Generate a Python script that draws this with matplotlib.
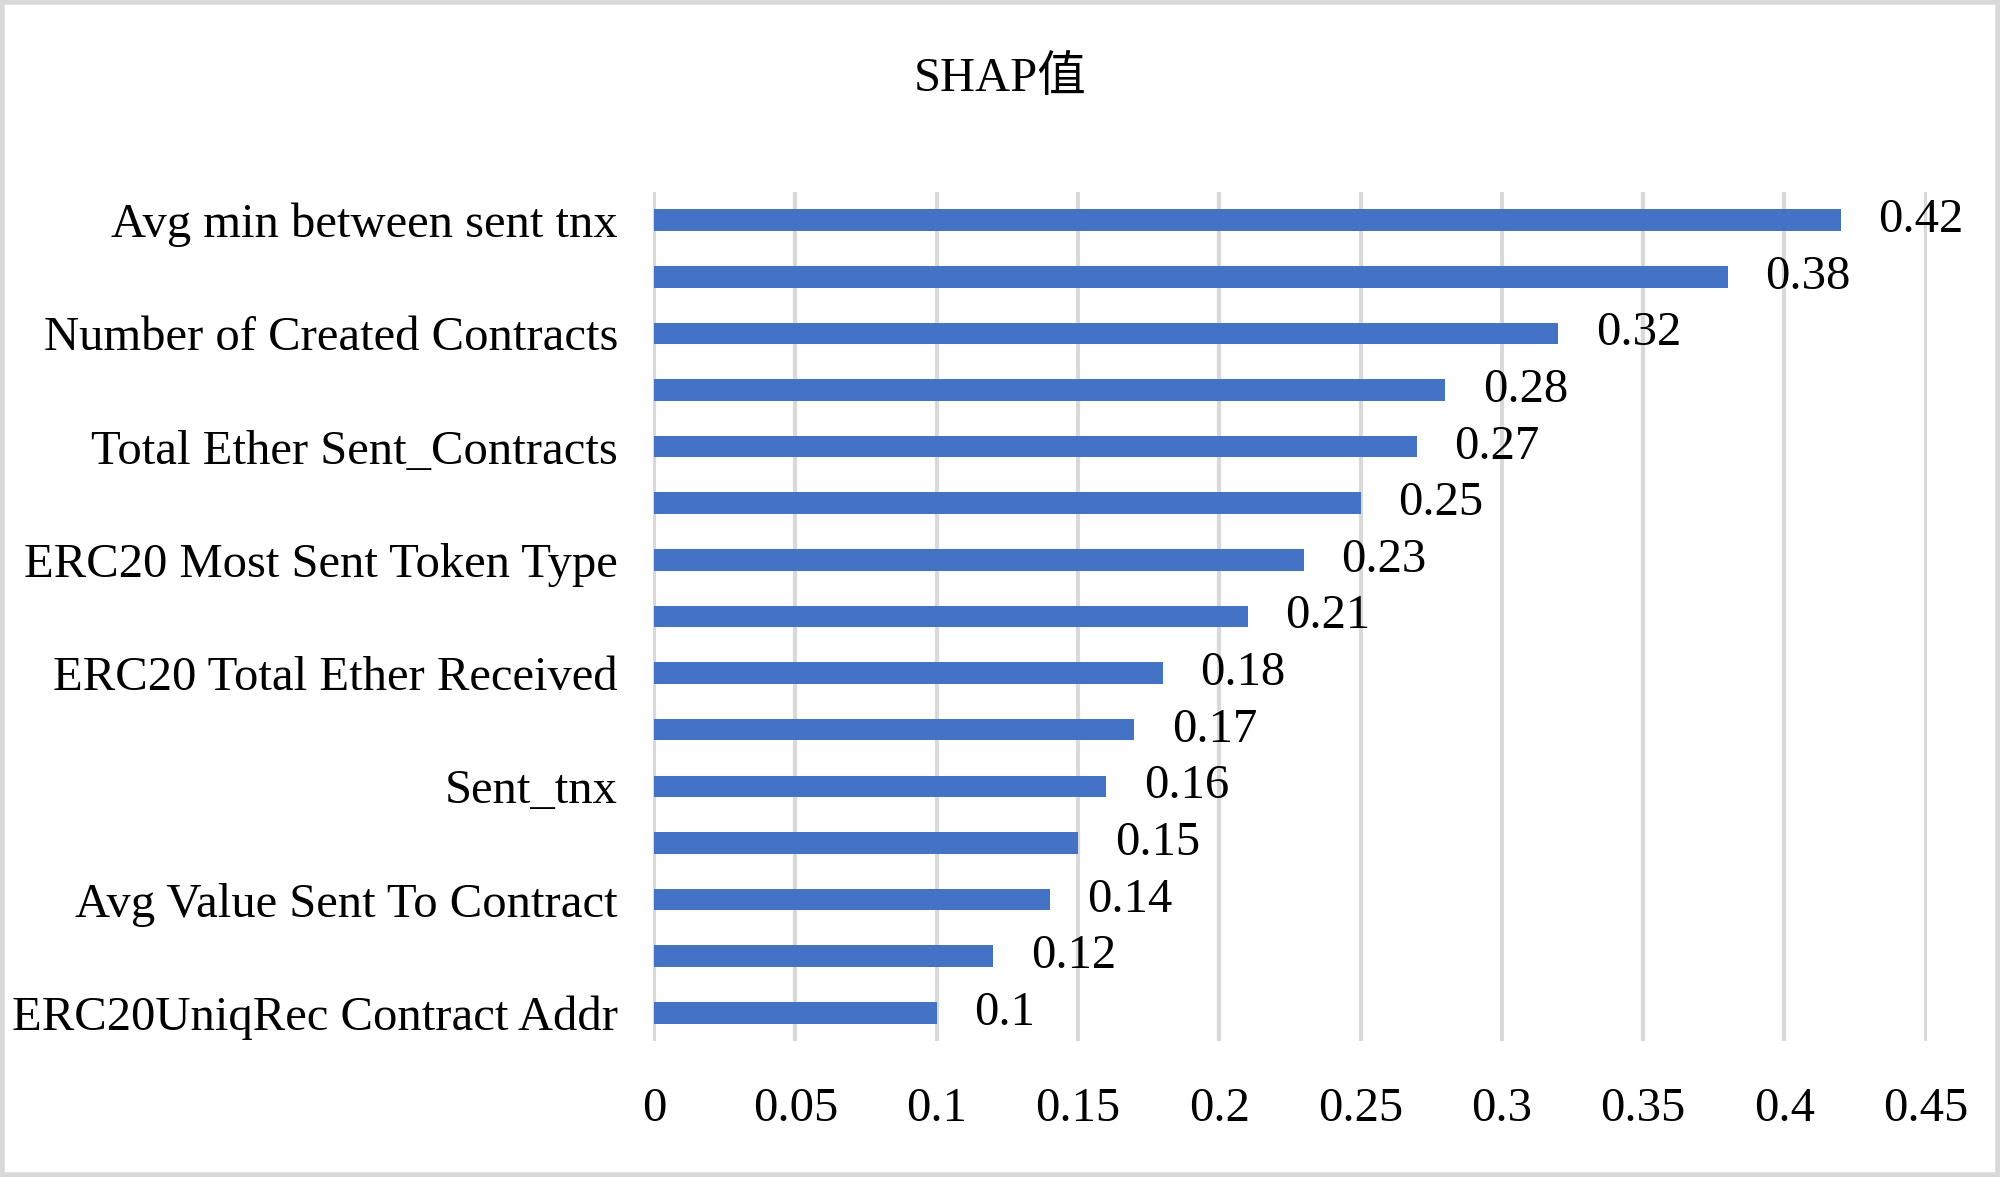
import matplotlib
matplotlib.use("Agg")
import matplotlib.pyplot as plt
from matplotlib.patches import Rectangle

plt.rcParams['font.family'] = ['Liberation Serif', 'Noto Sans CJK SC']

# features, top to bottom (only every other one has a visible label)
features = [
    'Avg min between sent tnx', '',
    'Number of Created Contracts', '',
    'Total Ether Sent_Contracts', '',
    'ERC20 Most Sent Token Type', '',
    'ERC20 Total Ether Received', '',
    'Sent_tnx', '',
    'Avg Value Sent To Contract', '',
    'ERC20UniqRec Contract Addr',
]
shap_vals = [0.42, 0.38, 0.32, 0.28, 0.27, 0.25, 0.23, 0.21,
             0.18, 0.17, 0.16, 0.15, 0.14, 0.12, 0.1]
xticks = [0, 0.05, 0.1, 0.15, 0.2, 0.25, 0.3, 0.35, 0.4, 0.45]
xtick_labels = ['0', '0.05', '0.1', '0.15', '0.2', '0.25', '0.3', '0.35', '0.4', '0.45']

fs = 35

fig = plt.figure(figsize=(20, 11.77), dpi=100)
ax = fig.add_axes([0.3263, 0.1155, 0.6373, 0.7215])

ypos = list(range(len(features)))
ax.barh(ypos, shap_vals, height=0.38, color='#4472C4', zorder=3)

for y, v in zip(ypos, shap_vals):
    ax.annotate(f'{v:g}', xy=(v, y), xytext=(27, 0), textcoords='offset points',
                va='center', ha='left', fontsize=fs)

ax.set_ylim(14.5, -0.5)
ax.set_xlim(-0.0005, 0.4505)
ax.set_yticks(ypos)
ax.set_yticklabels(features, fontsize=fs)
ax.set_xticks(xticks)
ax.set_xticklabels(xtick_labels, fontsize=fs)
ax.tick_params(axis='both', length=0)
ax.tick_params(axis='y', pad=25)
ax.tick_params(axis='x', pad=33)

ax.grid(axis='x', color='#d9d9d9', linewidth=3, zorder=0)
for s in ax.spines.values():
    s.set_visible(False)

fig.text(0.5, 0.933, 'SHAP值', ha='center', va='center', fontsize=fs)

# light grey frame around the chart
fig.patches.append(Rectangle((0.001, 0.002), 0.998, 0.996, transform=fig.transFigure,
                             fill=False, edgecolor='#d9d9d9', linewidth=4))

fig.savefig('out.png', dpi=100)
